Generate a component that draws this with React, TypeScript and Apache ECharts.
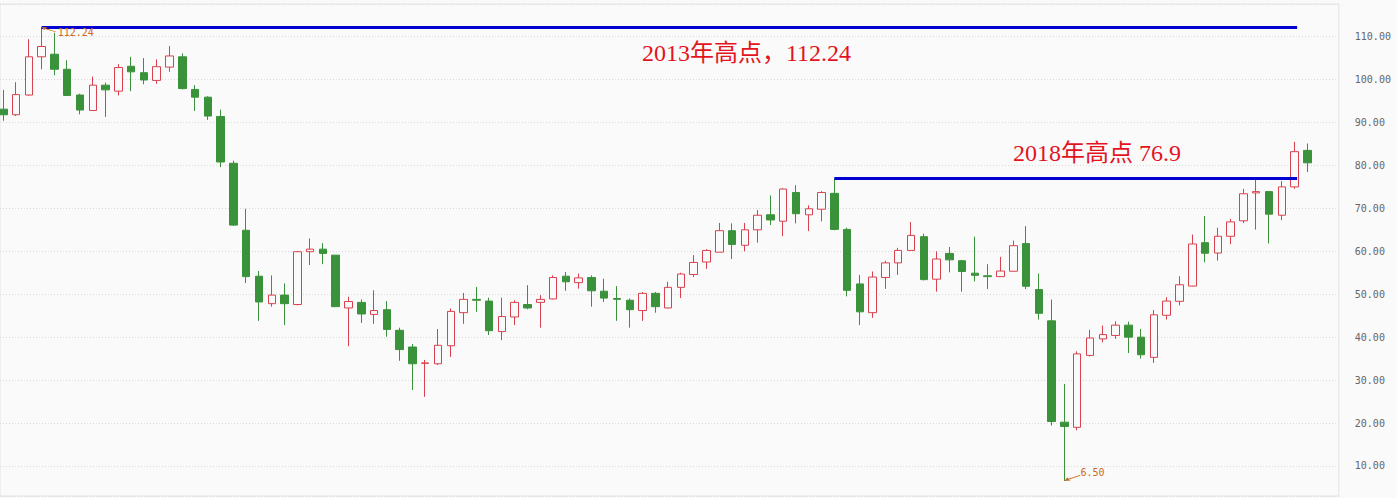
import { useEffect, useRef } from 'react';
import * as echarts from 'echarts';

// monthly candles: open / close / low / high
const opens = [
  93.1, 91.8, 96.4, 105.3, 105.9, 102.4, 96.4, 92.8, 98.7, 97.3,
  103.1, 101.6, 99.8, 102.9, 105.3, 97.7, 95.9, 91.4, 80.5, 64.9,
  54.2, 47.8, 49.8, 47.6, 59.9, 60.5, 59.1, 46.8, 48.1, 45.3,
  46.4, 41.6, 37.7, 33.9, 33.8, 38.0, 45.7, 48.8, 48.4, 41.3,
  44.7, 47.6, 48.1, 48.9, 54.2, 52.7, 53.9, 50.7, 49.0, 48.6,
  46.2, 50.2, 46.8, 51.6, 54.6, 57.5, 59.8, 64.8, 61.4, 65.0,
  68.5, 67.0, 73.7, 68.5, 69.8, 73.5, 65.1, 52.4, 45.7, 53.9,
  57.3, 60.2, 63.4, 53.5, 59.5, 57.8, 54.9, 54.3, 54.1, 55.35,
  61.8, 51.1, 43.8, 20.2, 19.0, 35.75, 39.6, 40.4, 42.8, 40.0,
  35.3, 45.1, 48.35, 51.9, 62.0, 59.6, 63.5, 67.1, 73.6, 73.9,
  68.4, 75.0, 83.5,
];
const closes = [
  91.8, 96.5, 105.3, 107.7, 102.4, 96.3, 92.9, 98.7, 97.6, 102.8,
  101.8, 99.9, 103.0, 105.5, 97.9, 95.9, 91.5, 80.8, 66.1, 54.1,
  48.2, 49.8, 47.8, 59.9, 60.5, 59.5, 47.1, 48.3, 45.4, 46.2,
  41.8, 37.1, 33.8, 34.0, 38.1, 46.0, 48.8, 48.6, 41.5, 44.8,
  48.1, 46.8, 48.8, 53.9, 52.9, 53.8, 50.8, 49.1, 48.8, 46.4,
  50.2, 47.1, 51.6, 54.7, 57.4, 60.2, 64.8, 61.6, 65.0, 68.4,
  67.3, 74.5, 68.75, 69.9, 73.7, 65.1, 50.9, 45.9, 54.0, 57.3,
  60.2, 63.7, 53.4, 58.2, 58.0, 55.3, 54.4, 54.1, 55.4, 61.3,
  51.85, 45.55, 20.35, 19.2, 36.1, 39.8, 40.6, 42.8, 40.0, 35.9,
  45.2, 48.4, 52.2, 61.7, 59.55, 63.5, 66.85, 73.4, 73.9, 68.65,
  75.0, 83.2, 80.6,
];
const lows = [
  90.4, 91.5, 96.2, 102.4, 101.0, 96.2, 91.9, 92.7, 91.3, 96.3,
  97.3, 98.9, 99.0, 101.8, 97.7, 92.7, 90.6, 79.6, 65.9, 52.6,
  43.8, 47.1, 42.8, 47.4, 56.8, 57.0, 47.1, 37.9, 43.3, 43.1,
  40.1, 34.5, 27.7, 26.1, 33.5, 35.4, 43.1, 45.9, 40.5, 39.3,
  42.8, 46.5, 42.2, 48.8, 50.8, 51.3, 47.1, 48.2, 43.8, 42.2,
  43.8, 45.7, 46.7, 49.1, 54.0, 55.9, 59.8, 58.2, 60.0, 62.0,
  66.1, 63.5, 66.5, 64.7, 67.0, 64.9, 49.5, 42.8, 44.5, 51.25,
  54.5, 60.2, 53.2, 50.6, 55.1, 50.6, 53.0, 51.2, 54.1, 55.35,
  51.2, 44.1, 19.4, 6.5, 18.3, 35.5, 38.8, 39.6, 36.3, 35.0,
  34.0, 44.1, 47.4, 51.85, 57.45, 57.8, 61.65, 66.55, 65.05, 61.8,
  67.25, 74.55, 78.45,
];
const highs = [
  97.6, 99.4, 109.4, 112.24, 110.9, 104.5, 96.7, 100.7, 99.3, 103.6,
  105.3, 105.0, 104.7, 107.8, 106.1, 98.7, 96.1, 93.0, 81.1, 69.9,
  55.4, 54.4, 52.5, 60.1, 63.0, 61.9, 59.1, 49.4, 48.8, 50.9,
  48.4, 42.2, 38.4, 34.7, 41.9, 46.7, 50.3, 51.7, 49.2, 49.2,
  48.6, 52.1, 49.8, 54.4, 55.2, 54.8, 54.4, 53.6, 51.9, 49.0,
  50.5, 50.5, 52.9, 55.0, 59.1, 60.5, 66.6, 66.5, 66.6, 69.6,
  73.0, 74.7, 75.4, 70.7, 74.0, 76.9, 65.5, 54.5, 55.3, 57.8,
  60.8, 66.8, 64.1, 60.0, 61.0, 58.0, 63.4, 57.0, 58.7, 62.5,
  65.85, 54.8, 48.75, 29.1, 36.7, 41.7, 42.7, 43.7, 43.6, 41.9,
  46.3, 49.3, 54.2, 63.9, 68.2, 65.5, 67.55, 74.55, 76.7, 73.9,
  76.35, 85.5, 85.1,
];

const high2013 = 112.24;
const high2013Index = 3;
const high2018 = 76.9;
const high2018Index = 65;
const lineEndIndex = 101;
const lowValue = 6.5;
const lowIndex = 83;

// visible window: the first candle is slightly cut at the left edge
const xMin = -0.26;
const xMax = 104.46;
const yMin = 3;
const yMax = 117.6;

const RED = '#d8424e';
const GREEN = '#3a923a';
const BG = '#fafafa';
const NOTE = '#d0691e';

export default function App() {
  const chartRef = useRef<HTMLDivElement>(null);

  useEffect(() => {
    document.body.style.margin = '0';
    document.body.style.background = BG;
    if (!chartRef.current) return;
    const chart = echarts.init(chartRef.current, undefined, { renderer: 'svg' });

    const candles = opens.map((o, i) => [i, o, closes[i], lows[i], highs[i]]);

    chart.setOption({
      animation: false,
      backgroundColor: BG,
      grid: {
        left: 0,
        right: 58.2,
        top: 4,
        bottom: 2,
        show: true,
        borderColor: '#e3e3e3',
        borderWidth: 1,
        backgroundColor: BG,
      },
      xAxis: {
        type: 'value',
        min: xMin,
        max: xMax,
        axisLine: { show: false },
        axisTick: { show: false },
        axisLabel: { show: false },
        splitLine: { show: false },
      },
      yAxis: {
        type: 'value',
        position: 'right',
        min: yMin,
        max: yMax,
        splitNumber: 11,
        axisLine: { show: false },
        axisTick: { show: false },
        axisLabel: {
          showMinLabel: false,
          showMaxLabel: false,
          margin: 16,
          color: '#666',
          fontSize: 10,
          fontFamily: '"DejaVu Sans Mono", monospace',
          formatter: (v: number) => v.toFixed(2),
        },
        splitLine: { lineStyle: { color: '#d9d9d9', type: [1, 2], width: 1 } },
      },
      graphic: [
        {
          type: 'text',
          left: 642,
          top: 41,
          style: {
            text: '2013年高点，112.24',
            fill: '#e3141e',
            font: '24px "Liberation Serif", "Noto Sans CJK SC", serif',
          },
        },
        {
          type: 'text',
          left: 1013,
          top: 141,
          style: {
            text: '2018年高点 76.9',
            fill: '#e3141e',
            font: '24px "Liberation Serif", "Noto Sans CJK SC", serif',
          },
        },
      ],
      series: [
        {
          type: 'candlestick',
          data: candles,
          encode: { x: 0, y: [1, 2, 3, 4] },
          barWidth: 8,
          itemStyle: {
            color: BG,
            color0: GREEN,
            borderColor: RED,
            borderColor0: GREEN,
            borderWidth: 1,
          },
          markLine: {
            silent: true,
            symbol: ['none', 'none'],
            label: { show: false },
            lineStyle: { color: '#0000d2', width: 3, type: 'solid' },
            data: [
              [{ coord: [high2013Index, high2013] }, { coord: [lineEndIndex + 0.2, high2013] }],
              [{ coord: [high2018Index, high2018] }, { coord: [lineEndIndex + 0.2, high2018] }],
            ],
          },
          markPoint: {
            silent: true,
            data: [
              {
                coord: [high2013Index, high2013],
                symbol: 'path://M0,0 L4,0.3 L2.8,1.3 L10,4.4 L9.7,5 L2.4,1.9 L1.8,3.2 Z',
                symbolSize: [14, 5],
                symbolKeepAspect: false,
                symbolOffset: [7, 2.5],
                itemStyle: { color: NOTE },
                label: {
                  show: true,
                  position: 'right',
                  distance: 2,
                  offset: [0, 3],
                  formatter: '112.24',
                  color: NOTE,
                  fontSize: 10,
                  fontFamily: '"DejaVu Sans Mono", monospace',
                },
              },
              {
                coord: [lowIndex, lowValue],
                symbol: 'path://M0,5 L4,4.7 L2.8,3.7 L10,0.6 L9.7,0 L2.4,3.1 L1.8,1.8 Z',
                symbolSize: [16, 6],
                symbolKeepAspect: false,
                symbolOffset: [8, -3],
                itemStyle: { color: NOTE },
                label: {
                  show: true,
                  position: 'right',
                  distance: 1,
                  offset: [-1, -5],
                  formatter: '6.50',
                  color: NOTE,
                  fontSize: 10,
                  fontFamily: '"DejaVu Sans Mono", monospace',
                },
              },
            ],
          },
        },
      ],
    });

    return () => chart.dispose();
  }, []);

  return <div ref={chartRef} style={{ width: 1397, height: 498 }} />;
}
